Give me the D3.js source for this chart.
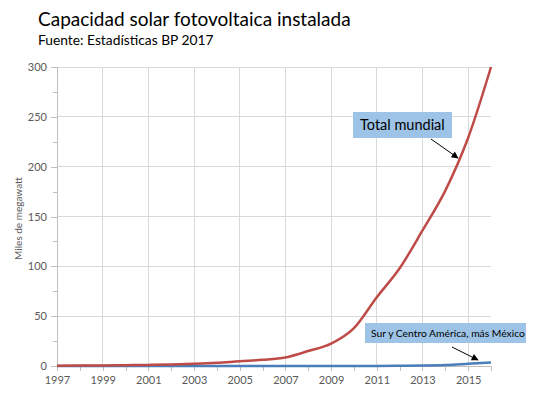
<!DOCTYPE html>
<html><head><meta charset="utf-8">
<script src="https://cdn.jsdelivr.net/npm/d3@7"></script>
<style>body{margin:0;background:#fff}svg{display:block}</style>
</head><body>
<script>
const years = [1997,1998,1999,2000,2001,2002,2003,2004,2005,2006,2007,2008,2009,2010,2011,2012,2013,2014,2015,2016];
const worldValues = [0.3,0.4,0.5,0.8,1.1,1.5,2.2,3.2,4.8,6.2,8.6,15.0,22.5,38.0,69.0,98.0,136.0,176.0,229.0,300.0];
const latamValues = [0,0,0,0,0,0,0,0,0,0,0,0,0,0.05,0.1,0.2,0.4,0.9,2.2,3.6];
const yTicks = [0,50,100,150,200,250,300];
const xLabelYears = [1997,1999,2001,2003,2005,2007,2009,2011,2013,2015];
const title = "Capacidad solar fotovoltaica instalada";
const subtitle = "Fuente: Estadísticas BP 2017";
const yAxisTitle = "Miles de megawatt";
const annot1 = "Total mundial";
const annot2 = "Sur y Centro América, más México";

const W = 538, H = 395;
const m = {left:57, right:47, top:67, bottom:29};
const font = "Lato, 'Open Sans', sans-serif";
const svg = d3.select("body").append("svg").attr("width",W).attr("height",H);

const x = d3.scaleLinear().domain([1997,2016]).range([m.left, W-m.right]);
const y = d3.scaleLinear().domain([0,300]).range([H-m.bottom, m.top]);

// gridlines
svg.append("g").selectAll("line.h").data(yTicks.filter(d=>d>0)).join("line")
  .attr("x1",x(1997)).attr("x2",x(2016)).attr("y1",d=>y(d)).attr("y2",d=>y(d))
  .attr("stroke","#d9d9d9").attr("stroke-width",1).attr("shape-rendering","crispEdges");
svg.append("g").selectAll("line.v").data(xLabelYears.filter(d=>d>1997)).join("line")
  .attr("x1",d=>x(d)).attr("x2",d=>x(d)).attr("y1",y(0)).attr("y2",y(300))
  .attr("stroke","#d9d9d9").attr("stroke-width",1).attr("shape-rendering","crispEdges");

// y axis
const yAxis = d3.axisLeft(y).tickValues(d3.range(0,301,25)).tickSize(5)
  .tickFormat(d => d%50===0 ? d : "");
const gy = svg.append("g").attr("transform",`translate(${x(1997)},0)`).call(yAxis);
gy.select(".domain").attr("stroke","#bfbfbf").attr("shape-rendering","crispEdges");
gy.selectAll(".tick line").attr("stroke","#bfbfbf").attr("shape-rendering","crispEdges")
  .attr("x2",d=>d%50===0?-6:-4);
gy.selectAll(".tick text").attr("fill","#595959").attr("font-family",font).attr("font-size",11).attr("x",-10);

// x axis
const xAxis = d3.axisBottom(x).tickValues(years).tickSize(5)
  .tickFormat(d => xLabelYears.includes(d) ? d : "");
const gx = svg.append("g").attr("transform",`translate(0,${y(0)})`).call(xAxis);
gx.select(".domain").attr("stroke","#bfbfbf").attr("shape-rendering","crispEdges");
gx.selectAll(".tick line").attr("stroke","#bfbfbf").attr("shape-rendering","crispEdges");
gx.selectAll(".tick text").attr("fill","#595959").attr("font-family",font).attr("font-size",11).attr("y",10);

// y title
svg.append("text").attr("transform",`translate(22,${(y(0)+y(300))/2+2}) rotate(-90)`)
  .attr("text-anchor","middle").attr("font-family",font).attr("font-size",10).attr("fill","#595959")
  .text(yAxisTitle);

// lines
const line = d3.line().x((d,i)=>x(years[i])).y(d=>y(d)).curve(d3.curveMonotoneX);
svg.append("path").datum(latamValues).attr("d",line).attr("fill","none")
  .attr("stroke","#4a7ebb").attr("stroke-width",2.5);
svg.append("path").datum(worldValues).attr("d",line).attr("fill","none")
  .attr("stroke","#be4b48").attr("stroke-width",2.5);

// titles
svg.append("text").attr("x",38).attr("y",26).attr("font-family",font).attr("font-size",19)
  .attr("fill","#000").text(title);
svg.append("text").attr("x",38).attr("y",45).attr("font-family",font).attr("font-size",13.8)
  .attr("fill","#000").text(subtitle);

// arrow marker
svg.append("defs").append("marker").attr("id","arr").attr("viewBox","0 0 10 10")
  .attr("refX",9).attr("refY",5).attr("markerWidth",9).attr("markerHeight",7)
  .attr("markerUnits","userSpaceOnUse").attr("orient","auto")
  .append("path").attr("d","M0,0L10,5L0,10Z").attr("fill","#000");

// annotation 1
svg.append("rect").attr("x",353).attr("y",112).attr("width",99).attr("height",26).attr("fill","#9dc3e6");
svg.append("text").attr("x",360).attr("y",130).attr("font-family",font).attr("font-size",14.5).text(annot1);
svg.append("line").attr("x1",431).attr("y1",139).attr("x2",458).attr("y2",158)
  .attr("stroke","#000").attr("stroke-width",1).attr("marker-end","url(#arr)");

// annotation 2
svg.append("rect").attr("x",365).attr("y",323).attr("width",161).attr("height",20).attr("fill","#9dc3e6");
svg.append("text").attr("x",371).attr("y",337).attr("font-family",font).attr("font-size",10.3).text(annot2);
svg.append("line").attr("x1",452).attr("y1",347).attr("x2",478).attr("y2",360)
  .attr("stroke","#000").attr("stroke-width",1).attr("marker-end","url(#arr)");
</script>
</body></html>
